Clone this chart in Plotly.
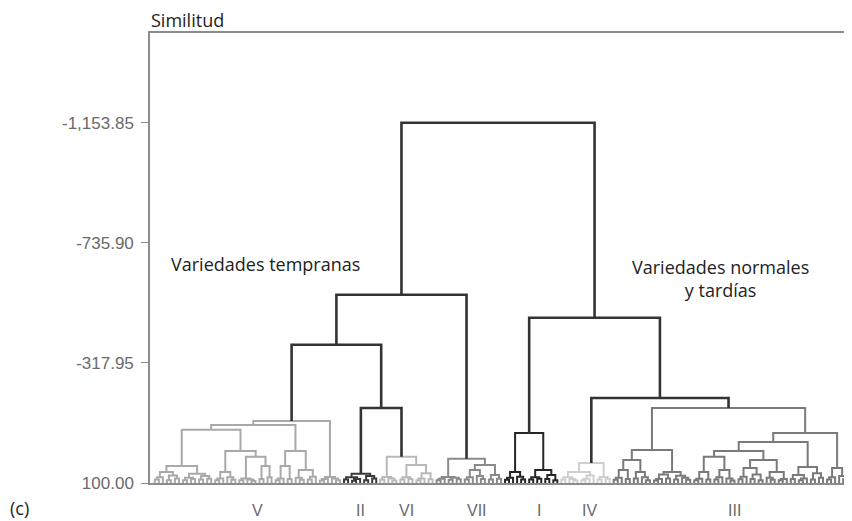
import plotly.graph_objects as go

# ---- data: merge heights ("Similitud") of the dendrogram, leaves sit at 100.00 ----
# node = [merge_height, left_child, right_child]; a leaf is 0
cluster_V = [-116,
    [-102,
        [-85,
            [41,
                [62, [80, [88, 0, 0], 0], [74, [90, 0, 0], [84, 0, 0]]],
                [68, [82, [90, 0, 0], [86, 0, 0]], [76, [88, 0, 0], [85, 0, 0]]]],
            [-11.5,
                [62, [84, [90, 0, 0], 0], [80, 0, [89, 0, 0]]],
                [9,
                    [84, [90, 0, 0], [88, 0, [93, 0, 0]]],
                    [41, [86, 0, 0], [80, 0, 0]]]]],
        [-11.5,
            [41, [84, [90, 0, 0], 0], [86, 0, 0]],
            [55, [82, 0, [89, 0, 0]], [78, [88, 0, 0], 0]]]],
    [79, [86, [91, 0, 0], 0], [84, 0, [90, 0, 0]]]]

cluster_II = [68, [80, [88, 0, 0], [86, [92, 0, 0], 0]], [76, [90, 0, 0], [84, 0, 0]]]

cluster_VI = [9,
    [79, [88, 0, 0], [84, 0, [91, 0, 0]]],
    [37, [80, [88, 0, 0], [86, 0, 0]], [66, [84, [90, 0, 0], 0], [87, 0, 0]]]]

cluster_VII = [16,
    [79, [85, [90, 0, 0], 0], [82, [89, 0, 0], [87, 0, 0]]],
    [37,
        [55, [80, [88, 0, 0], 0], [76, 0, [86, 0, 0]]],
        [72, [88, 0, 0], [85, 0, 0]]]]

cluster_I = [-74,
    [62, [82, [89, 0, 0], 0], [78, 0, [88, 0, 0]]],
    [55, [80, [88, 0, 0], [85, 0, 0]], [72, [86, 0, 0], [90, 0, 0]]]]

cluster_IV = [30,
    [62, [80, [88, 0, 0], [86, 0, [91, 0, 0]]], [74, [85, [90, 0, 0], 0], 0]],
    [79, [88, 0, 0], [85, 0, 0]]]

cluster_III = [-161,
    [-15,
        [20,
            [55, [82, [89, 0, 0], 0], [86, 0, 0]],
            [62, [84, 0, 0], [80, 0, [90, 0, 0]]]],
        [62,
            [70, [86, [91, 0, 0], 0], [84, 0, 0]],
            [75, [88, 0, 0], [82, 0, [89, 0, 0]]]]],
    [-74,
        [-43,
            [-11.5,
                [9,
                    [62, [85, [90, 0, 0], 0], [88, 0, 0]],
                    [55, [80, [88, 0, 0], 0], [84, 0, [91, 0, 0]]]],
                [20,
                    [48, [78, [87, 0, 0], 0], [70, [86, 0, 0], [90, 0, 0]]],
                    [62, [82, 0, [89, 0, 0]], [86, [90, 0, 0], 0]]]],
            [44, [72, [86, 0, 0], [84, [90, 0, 0], 0]], [66, [88, 0, 0], [82, 0, 0]]]],
        [48, [80, [88, 0, 0], 0], [76, 0, [87, 0, 0]]]]]

# upper links between groups
h_II_VI = -161
h_early_sub = -381
h_early = -555
h_IV_III = -196
h_late = -475
h_root = -1153.85

cluster_names = ["V", "II", "VI", "VII", "I", "IV", "III"]
cluster_colors = ["#a9a9a9", "#3a3a3a", "#b9b9b9", "#8a8a8a", "#262626", "#cfcfcf", "#7a7a7a"]
label_nudge_px = [10, 0, 0, 8, 8, 4, 4]
upper_color = "#333333"

tick_vals = [100, -317.95, -735.90, -1153.85]
tick_text = ["100.00", "-317.95", "-735.90", "-1,153.85"]
LEAF_Y = 100

# ---- tag nodes with colours ----
def tag(node, color):
    if node == 0:
        return 0
    return {"h": node[0], "a": tag(node[1], color), "b": tag(node[2], color), "c": color}

C = {n: tag(t, c) for n, t, c in zip(
    cluster_names,
    [cluster_V, cluster_II, cluster_VI, cluster_VII, cluster_I, cluster_IV, cluster_III],
    cluster_colors)}

def up(h, a, b):
    return {"h": h, "a": a, "b": b, "c": upper_color}

tree = up(h_root,
          up(h_early, up(h_early_sub, C["V"], up(h_II_VI, C["II"], C["VI"])), C["VII"]),
          up(h_late, C["I"], up(h_IV_III, C["IV"], C["III"])))

segs = {}
counter = [0]

def walk(node):
    if node == 0:
        x = counter[0]
        counter[0] += 1
        return x, LEAF_Y
    xa, ya = walk(node["a"])
    xb, yb = walk(node["b"])
    h = node["h"]
    s = segs.setdefault(node["c"], ([], []))
    s[0].extend([xa, xa, xb, xb, None])
    s[1].extend([ya, h, h, yb, None])
    return (xa + xb) / 2, h

def count_leaves(node):
    return 1 if node == 0 else count_leaves(node["a"]) + count_leaves(node["b"])

walk(tree)
n_leaves = counter[0]

# page body has an 8px margin: figure is sized/offset so the plot lands where intended
W, H = 844, 513
ML, MT, MB = 142, 25, 38
PW = W - ML

fig = go.Figure()
order = cluster_colors + [upper_color]
for col in order:
    if col in segs:
        xs, ys = segs[col]
        w = 2.6 if col == upper_color else 2.0
        fig.add_trace(go.Scatter(x=xs, y=ys, mode="lines",
                                 line=dict(color=col, width=w),
                                 hoverinfo="skip", showlegend=False))

start = 0
for name, nudge in zip(cluster_names, label_nudge_px):
    n = count_leaves(C[name])
    fig.add_annotation(x=start + (n - 1) / 2, y=0, xref="x", yref="paper",
                       yanchor="middle", yshift=-27, xshift=nudge, text=name, showarrow=False,
                       font=dict(family="Liberation Sans, Arial", size=16, color="#6a6a6a"))
    start += n

fig.add_annotation(x=0, y=1, xref="paper", yref="paper", xanchor="left", yanchor="middle",
                   yshift=13, xshift=-1, text="Similitud", showarrow=False,
                   font=dict(family="Open Sans", size=18, color="#222"))
fig.add_annotation(x=-ML / PW, y=0, xref="paper", yref="paper", xanchor="left", xshift=0,
                   yanchor="middle", yshift=-25, text="(c)", showarrow=False,
                   font=dict(family="Open Sans", size=18, color="#222"))
fig.add_annotation(x=19 / PW, y=-663, xref="paper", yref="y", xanchor="left",
                   text="Variedades tempranas", showarrow=False,
                   font=dict(family="Open Sans", size=18, color="#222"))
fig.add_annotation(x=570 / PW, y=-612, xref="paper", yref="y", xanchor="center",
                   text="Variedades normales<br>y tardías", showarrow=False, align="center",
                   font=dict(family="Open Sans", size=18, color="#222"))

fig.update_layout(
    width=W, height=H,
    margin=dict(l=ML, r=0, t=MT, b=MB),
    paper_bgcolor="white", plot_bgcolor="white",
    xaxis=dict(range=[-1.2, n_leaves + 0.2], showgrid=False, zeroline=False,
               showticklabels=False, ticks="", showline=True, mirror=True,
               linecolor="#8c8c8c", linewidth=1.5),
    yaxis=dict(range=[100, -1466], showgrid=False, zeroline=False,
               tickvals=tick_vals, ticktext=tick_text, ticks="outside", ticklen=7,
               tickcolor="#8c8c8c", tickwidth=1.2, showline=True, linecolor="#8c8c8c",
               linewidth=1.5, ticklabelstandoff=4,
               tickfont=dict(family="Liberation Sans, Arial", size=17, color="#6a6a6a")),
)

fig.write_html("out.html")
